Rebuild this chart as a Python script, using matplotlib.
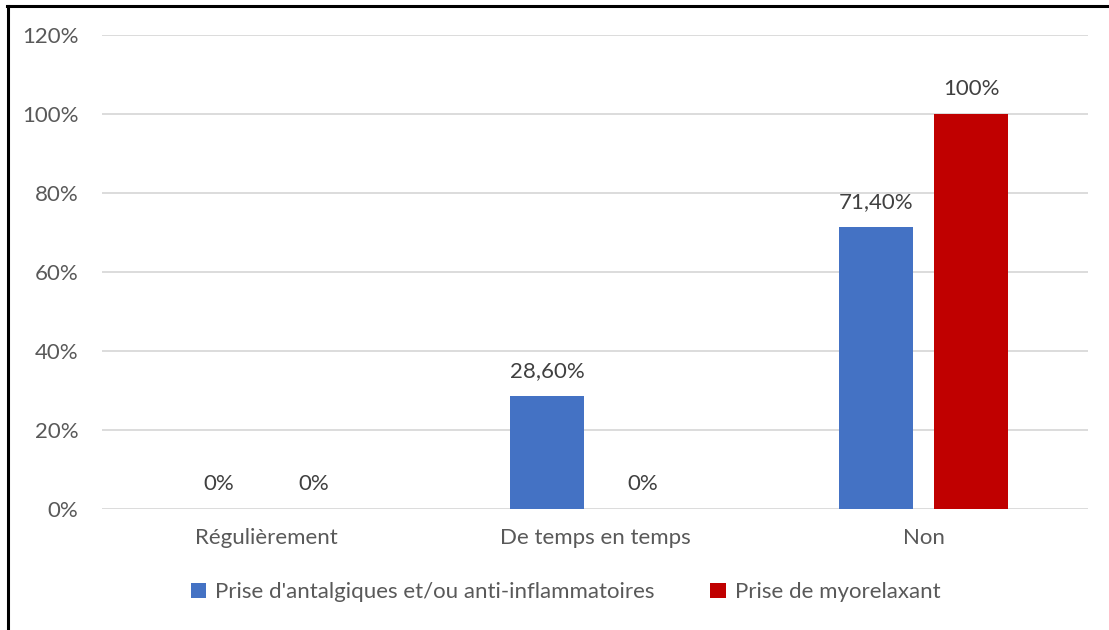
import numpy as np
import matplotlib.pyplot as plt
from matplotlib.lines import Line2D

categories = ['Régulièrement', 'De temps en temps', 'Non']
antalgiques = [0, 28.6, 71.4]
myorelaxant = [0, 0, 100]
labels_antalgiques = ['0%', '28,60%', '71,40%']
labels_myorelaxant = ['0%', '0%', '100%']
y_ticks = [0, 20, 40, 60, 80, 100, 120]

plt.rcParams['font.family'] = ['Lato', 'DejaVu Sans']
grey = '#595959'
fs = 16

fig = plt.figure(figsize=(11.09, 6.3), dpi=100)
ax = fig.add_axes([0.092, 0.192, 0.889, 0.752])

x = np.arange(len(categories))
w = 0.225
off = 0.145
b1 = ax.bar(x - off, antalgiques, w, color='#4472C4', zorder=3,
            label="Prise d'antalgiques et/ou anti-inflammatoires")
b2 = ax.bar(x + off, myorelaxant, w, color='#C00000', zorder=3,
            label='Prise de myorelaxant')

ax.bar_label(b1, labels=labels_antalgiques, padding=11, fontsize=fs, color='#404040')
ax.bar_label(b2, labels=labels_myorelaxant, padding=11, fontsize=fs, color='#404040')

ax.set_xlim(-0.5, 2.5)
ax.set_ylim(0, 120)
ax.set_yticks(y_ticks)
ax.set_yticklabels([f'{t}%' for t in y_ticks])
ax.set_xticks(x)
ax.set_xticklabels(categories)
ax.tick_params(length=0, labelsize=fs, labelcolor=grey)
ax.tick_params(axis='y', pad=17)
ax.tick_params(axis='x', pad=14)
ax.grid(axis='y', color='#d9d9d9', linewidth=1.3, zorder=0)
for s in ax.spines.values():
    s.set_visible(False)

ax.legend(loc='center', bbox_to_anchor=(0.47, -0.176), ncol=2, frameon=False,
          fontsize=fs, labelcolor=grey, handlelength=0.7, handleheight=0.7,
          handletextpad=0.4, columnspacing=2.5)

# outer border (top and left visible)
fig.add_artist(Line2D([0.0065, 0.9995], [0.991, 0.991], color='black', linewidth=2.2,
                      transform=fig.transFigure))
fig.add_artist(Line2D([0.0068, 0.0068], [0.0, 0.991], color='black', linewidth=2.2,
                      transform=fig.transFigure))

fig.savefig('out.png', dpi=100)
